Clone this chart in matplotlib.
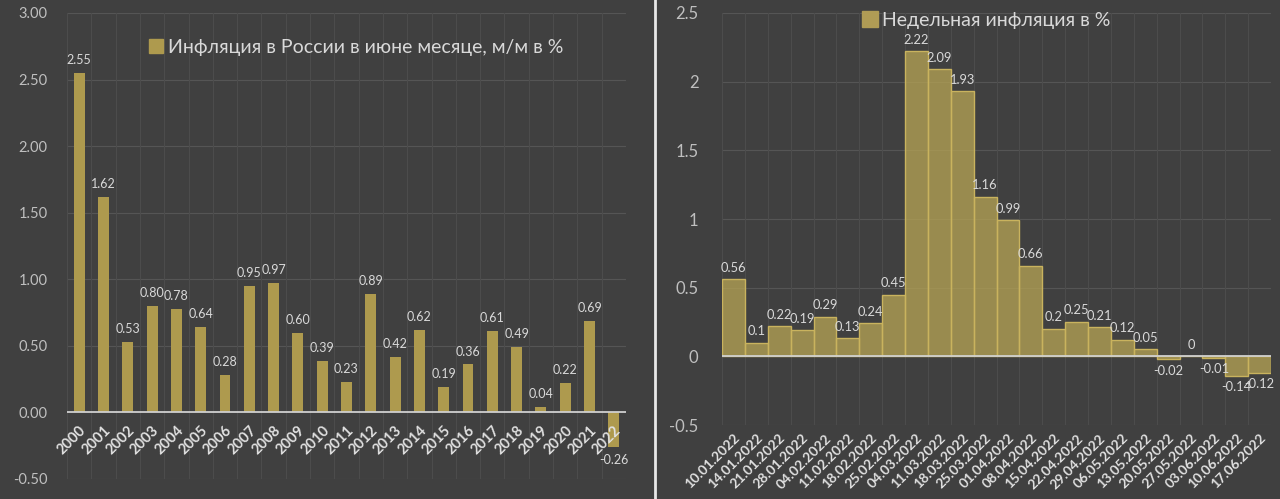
import matplotlib
matplotlib.use("Agg")
import matplotlib.pyplot as plt
import numpy as np
from matplotlib.lines import Line2D

plt.rcParams['font.family'] = ['Lato', 'DejaVu Sans']

years = ['2000', '2001', '2002', '2003', '2004', '2005', '2006', '2007', '2008', '2009',
         '2010', '2011', '2012', '2013', '2014', '2015', '2016', '2017', '2018', '2019',
         '2020', '2021', '2022']
june_infl = [2.55, 1.62, 0.53, 0.80, 0.78, 0.64, 0.28, 0.95, 0.97, 0.60,
             0.39, 0.23, 0.89, 0.42, 0.62, 0.19, 0.36, 0.61, 0.49, 0.04,
             0.22, 0.69, -0.26]

weeks = ['10.01.2022', '14.01.2022', '21.01.2022', '28.01.2022', '04.02.2022', '11.02.2022',
         '18.02.2022', '25.02.2022', '04.03.2022', '11.03.2022', '18.03.2022', '25.03.2022',
         '01.04.2022', '08.04.2022', '15.04.2022', '22.04.2022', '29.04.2022', '06.05.2022',
         '13.05.2022', '20.05.2022', '27.05.2022', '03.06.2022', '10.06.2022', '17.06.2022']
week_infl = [0.56, 0.1, 0.22, 0.19, 0.29, 0.13, 0.24, 0.45, 2.22, 2.09, 1.93, 1.16,
             0.99, 0.66, 0.2, 0.25, 0.21, 0.12, 0.05, -0.02, 0, -0.01, -0.14, -0.12]
week_labels = ['0.56', '0.1', '0.22', '0.19', '0.29', '0.13', '0.24', '0.45', '2.22', '2.09',
               '1.93', '1.16', '0.99', '0.66', '0.2', '0.25', '0.21', '0.12', '0.05', '-0.02',
               '0', '-0.01', '-0.14', '-0.12']

left_title = 'Инфляция в России в июне месяце, м/м в %'
right_title = 'Недельная инфляция в %'

BG = '#404040'
GRID = '#555555'
VGRID = '#4c4c4c'
TXT = '#d9d9d9'
TICK = '#bfbfbf'
GOLD = '#ae9a4e'

fig = plt.figure(figsize=(12.8, 4.99), dpi=100, facecolor=BG)

# ---------- left panel ----------
ax1 = fig.add_axes([67/1280, 1-479/499, 559/1280, 466/499], facecolor=BG)
x1 = np.arange(len(years))
ax1.bar(x1, june_infl, width=0.45, color=GOLD, zorder=3)
ax1.set_xlim(-0.5, len(years)-0.5)
ax1.set_ylim(-0.5, 3.0)
yt1 = np.arange(-0.5, 3.01, 0.5)
ax1.set_yticks(yt1)
ax1.set_yticklabels([f'{v:.2f}' for v in yt1])
ax1.tick_params(axis='y', colors=TICK, labelsize=10.5, length=0, pad=14)
for v in yt1:
    if abs(v) > 1e-9:
        ax1.axhline(v, color=GRID, lw=0.8, zorder=1)
for b in np.arange(-0.5, len(years), 1.0):
    ax1.axvline(b, color=VGRID, lw=0.8, zorder=1)
ax1.axhline(0, color='#d0d0d0', lw=1.3, zorder=4)
for s in ax1.spines.values():
    s.set_visible(False)
ax1.spines['bottom'].set_position(('data', 0))
ax1.set_xticks(x1)
ax1.set_xticklabels(years, rotation=45, ha='right', va='top', rotation_mode='anchor',
                    fontweight='bold', fontsize=10.5, color='#e0e0e0')
ax1.tick_params(axis='x', length=0, pad=8)
ax1.xaxis.set_zorder(5)
for xi, v in zip(x1, june_infl):
    if v >= 0:
        ax1.annotate(f'{v:.2f}', (xi, v), xytext=(0, 5), textcoords='offset points',
                     ha='center', va='bottom', fontsize=9, color=TXT, zorder=5)
    else:
        ax1.annotate(f'{v:.2f}', (xi, v), xytext=(0, -5), textcoords='offset points',
                     ha='center', va='top', fontsize=9, color=TXT, zorder=5)
h1 = Line2D([], [], marker='s', linestyle='none', markersize=10, markerfacecolor=GOLD,
            markeredgecolor=GOLD)
leg1 = ax1.legend([h1], [left_title], loc='center', bbox_to_anchor=(0.515, 0.927),
                  frameon=False, fontsize=14, handletextpad=0.1, handlelength=1.0)
for t in leg1.get_texts():
    t.set_color(TXT)

# ---------- right panel ----------
ax2 = fig.add_axes([722/1280, 1-425/499, 549/1280, 412/499], facecolor=BG)
x2 = np.arange(len(weeks))
ax2.bar(x2, week_infl, width=1.0, facecolor=(0.70, 0.63, 0.33, 0.78),
        edgecolor='#c9b35e', linewidth=1.0, zorder=3)
ax2.set_xlim(-0.5, len(weeks)-0.5)
ax2.set_ylim(-0.5, 2.5)
yt2 = [-0.5, 0, 0.5, 1, 1.5, 2, 2.5]
ax2.set_yticks(yt2)
ax2.set_yticklabels(['-0.5', '0', '0.5', '1', '1.5', '2', '2.5'])
ax2.tick_params(axis='y', colors=TICK, labelsize=12, length=0, pad=17)
for v in yt2:
    if v != 0:
        ax2.axhline(v, color=GRID, lw=0.8, zorder=1)
for b in np.arange(-0.5, len(weeks), 1.0):
    ax2.axvline(b, color=VGRID, lw=0.8, zorder=1)
ax2.axhline(0, color='#cfcfcf', lw=1.3, zorder=4)
for s in ax2.spines.values():
    s.set_visible(False)
ax2.set_xticks(x2)
ax2.set_xticklabels(weeks, rotation=45, ha='right', va='top', rotation_mode='anchor',
                    fontweight='bold', fontsize=10, color='#e0e0e0')
ax2.tick_params(axis='x', length=0, pad=5)
for xi, v, lab in zip(x2, week_infl, week_labels):
    if v >= 0:
        ax2.annotate(lab, (xi, v), xytext=(0, 4), textcoords='offset points',
                     ha='center', va='bottom', fontsize=9.3, color=TXT, zorder=5)
    else:
        ax2.annotate(lab, (xi, v), xytext=(0, -4), textcoords='offset points',
                     ha='center', va='top', fontsize=9.3, color=TXT, zorder=5)
h2 = Line2D([], [], marker='s', linestyle='none', markersize=11,
            markerfacecolor='#b09c55', markeredgecolor='#b09c55')
leg2 = ax2.legend([h2], [right_title], loc='center', bbox_to_anchor=(0.48, 0.983),
                  frameon=False, fontsize=14, handletextpad=0.1, handlelength=1.0)
for t in leg2.get_texts():
    t.set_color(TXT)

# divider
fig.add_artist(Line2D([655/1280, 655/1280], [0, 1], color='#e8e8e8', lw=2,
                      transform=fig.transFigure))

fig.savefig('out.png', dpi=100, facecolor=BG)
